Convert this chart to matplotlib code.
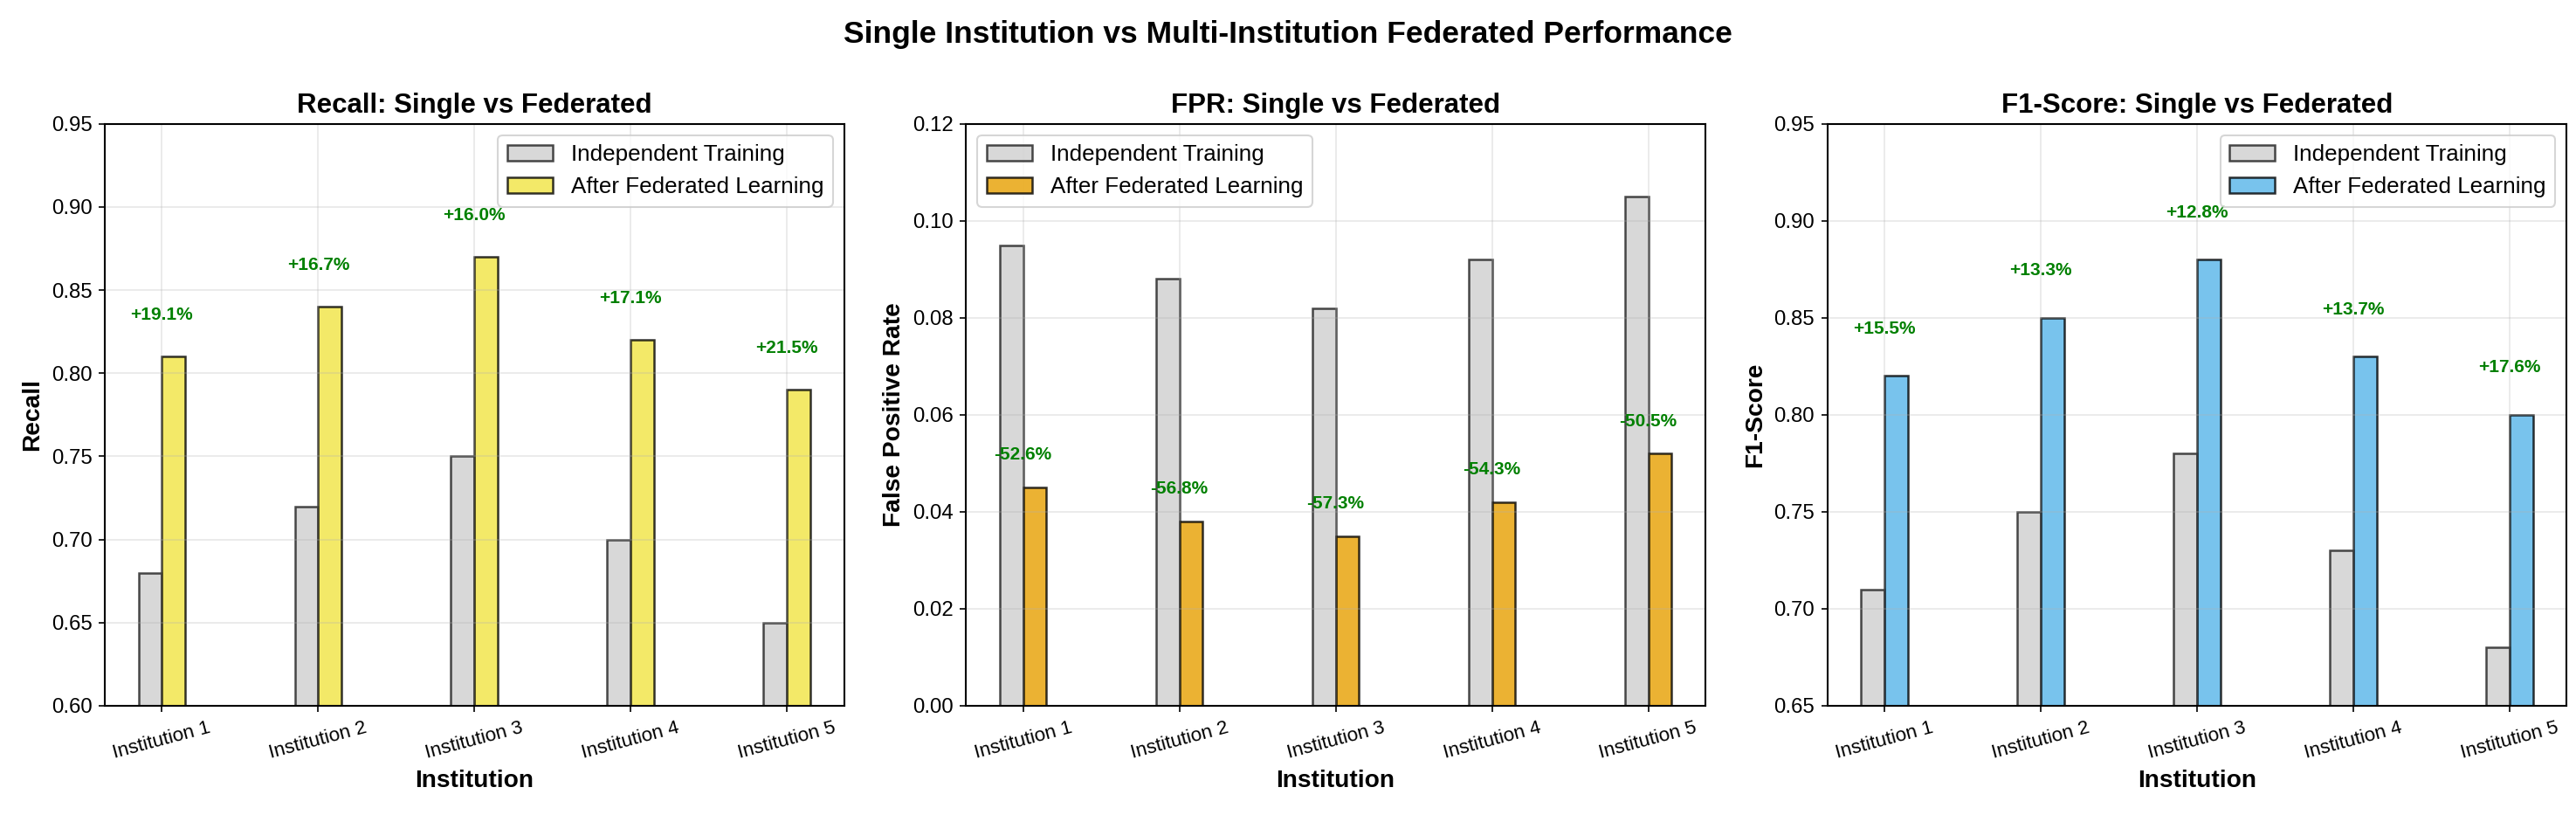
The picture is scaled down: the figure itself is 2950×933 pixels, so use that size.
import matplotlib
matplotlib.use("Agg")
import matplotlib.pyplot as plt
import numpy as np

plt.rcParams['font.family'] = ['Liberation Sans', 'DejaVu Sans']
plt.rcParams['axes.linewidth'] = 1.0

institutions = ["Institution 1", "Institution 2", "Institution 3", "Institution 4", "Institution 5"]

recall_single = [0.68, 0.72, 0.75, 0.70, 0.65]
recall_fed = [0.81, 0.84, 0.87, 0.82, 0.79]

fpr_single = [0.095, 0.088, 0.082, 0.092, 0.105]
fpr_fed = [0.045, 0.038, 0.035, 0.042, 0.052]

f1_single = [0.71, 0.75, 0.78, 0.73, 0.68]
f1_fed = [0.82, 0.85, 0.88, 0.83, 0.80]

panels = [
    ("Recall: Single vs Federated", "Recall", recall_single, recall_fed,
     "#F0E442", (0.60, 0.95), 0.02, "upper right"),
    ("FPR: Single vs Federated", "False Positive Rate", fpr_single, fpr_fed,
     "#E69F00", (0.0, 0.12), 0.005, "upper left"),
    ("F1-Score: Single vs Federated", "F1-Score", f1_single, f1_fed,
     "#56B4E9", (0.65, 0.95), 0.02, "upper right"),
]


def main():
    fig, axes = plt.subplots(1, 3, figsize=(2950 / 150, 933 / 150), dpi=150)
    fig.subplots_adjust(left=0.0407, right=0.9963, bottom=0.134, top=0.848, wspace=0.165)

    x = np.arange(len(institutions))
    w = 0.15
    for ax, (title, ylabel, single, fed, color, ylim, off, loc) in zip(axes, panels):
        ax.bar(x - w / 2, single, w, label="Independent Training", color="#C8C8C8",
               edgecolor="black", linewidth=1.2, alpha=0.7)
        ax.bar(x + w / 2, fed, w, label="After Federated Learning", color=color,
               edgecolor="black", linewidth=1.2, alpha=0.8)
        # relative change above each group
        for i in range(len(institutions)):
            change = (fed[i] - single[i]) / single[i] * 100
            ax.text(x[i], fed[i] + off, f"{change:+.1f}%", ha="center", va="bottom",
                    color="green", fontsize=10, fontweight="bold")
        ax.set_title(title, fontsize=15, fontweight="bold")
        ax.set_xlabel("Institution", fontsize=13.5, fontweight="bold")
        ax.set_ylabel(ylabel, fontsize=13.5, fontweight="bold")
        ax.set_xticks(x)
        ax.set_xticklabels(institutions, rotation=15, fontsize=10.75)
        ax.tick_params(axis="y", labelsize=11.5)
        ax.set_ylim(*ylim)
        ax.grid(True, alpha=0.3)
        ax.legend(loc=loc, fontsize=12.5)

    fig.suptitle("Single Institution vs Multi-Institution Federated Performance",
                 fontsize=17, fontweight="bold", y=0.975)
    fig.savefig("out.png", dpi=150)


if __name__ == "__main__":
    main()
